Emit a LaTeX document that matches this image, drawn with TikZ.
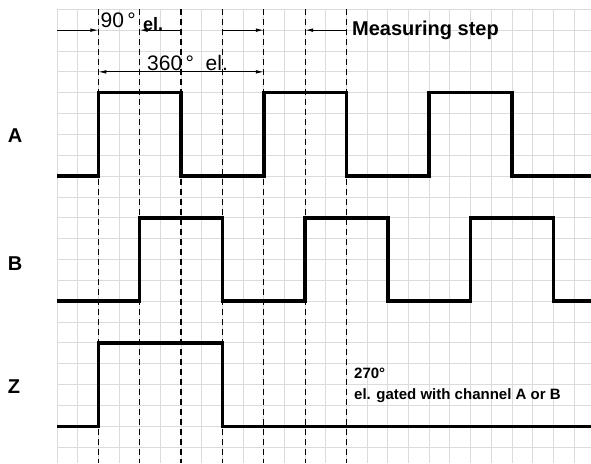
\documentclass[tikz,border=0pt]{standalone}
\usepackage{fontspec}
\setmainfont{Liberation Sans}
\usetikzlibrary{arrows.meta}
\tikzset{
  gridline/.style={draw=black!14, line width=0.9pt},
  guide/.style={draw=black, line width=1.2pt, dash pattern=on 5.5pt off 4.5pt},
  wave/.style={draw=black, line width=3.5pt, line join=miter, line cap=butt},
  dim/.style={draw=black, line width=0.8pt},
  tip/.style={-{Latex[length=8pt,width=3.6pt]}},
  chlabel/.style={font=\bfseries\fontsize{20}{20}\selectfont, inner sep=0pt},
  dimtext/.style={font=\fontsize{21}{21}\selectfont, inner sep=0pt, anchor=base west},
  note/.style={font=\bfseries\fontsize{15}{15}\selectfont, inner sep=0pt, anchor=base west}
}
\begin{document}
\begin{tikzpicture}[x=20.68pt, y=-20.85pt]
% bounding box 591 x 463 px, grid origin at (57,9.3)
\useasboundingbox (-2.7563,-0.446) rectangle (25.822,21.760);
\fill[white] (-2.7563,-0.446) rectangle (25.822,21.760);
% grid
\foreach \i in {0,...,25} \draw[gridline] (\i,0) -- (\i,21.76);
\foreach \j in {0,...,21} \draw[gridline] (0,\j) -- (25.822,\j);
% dashed guides
\foreach \c in {2,4,6,8,10,12,14} \draw[guide] (\c,0) -- (\c,21.76);
% waveforms
\draw[wave] (0,8) -- (2,8) -- (2,4) -- (6,4) -- (6,8) -- (10,8) -- (10,4) -- (14,4) -- (14,8) -- (18,8) -- (18,4) -- (22,4) -- (22,8) -- (25.822,8);
\draw[wave] (0,14) -- (4,14) -- (4,10) -- (8,10) -- (8,14) -- (12,14) -- (12,10) -- (16,10) -- (16,14) -- (20,14) -- (20,10) -- (24,10) -- (24,14) -- (25.822,14);
\draw[wave] (0,20) -- (2,20) -- (2,16) -- (8,16) -- (8,20) -- (25.822,20);
% channel labels
\node[chlabel] (la) at (-2.03,6.05) {A};
\node[chlabel] (lb) at (-2.03,12.2) {B};
\node[chlabel] (lz) at (-2.08,18.1) {Z};
% dimension arrows
\coordinate (a0) at (0,1);
\coordinate (a2) at (2,1);
\coordinate (a4) at (4,1);
\coordinate (a6) at (6,1);
\coordinate (a8) at (8,1);
\coordinate (a10) at (10,1);
\coordinate (a12) at (12,1);
\coordinate (a14) at (14,1);
\coordinate (b2) at (2,3);
\coordinate (b10) at (10,3);
\draw[dim,tip] (a0) -- (a2);
\draw[dim,tip] (a6) -- (a4);
\draw[dim,tip] (a8) -- (a10);
\draw[dim,tip] (a14) -- (a12);
\draw[dim,{Latex[length=8pt,width=3.6pt]}-{Latex[length=8pt,width=3.6pt]}] (b2) -- (b10);
% texts
\node[dimtext] (t90) at (2.1,0.88) {90\,°};
\node[dimtext, font=\bfseries\fontsize{18}{18}\selectfont] (tel) at (4.16,1.0) {el.};
\node[dimtext] (t360) at (4.35,2.95) {360\,°\ \ el.};
\node[note, font=\bfseries\fontsize{20}{20}\selectfont] (tms) at (14.26,1.26) {Measuring step};
\node[note] (t270) at (14.36,17.73) {270°};
\node[note] (tgate) at (14.36,18.7) {el. gated with channel A or B};
\end{tikzpicture}
\end{document}
